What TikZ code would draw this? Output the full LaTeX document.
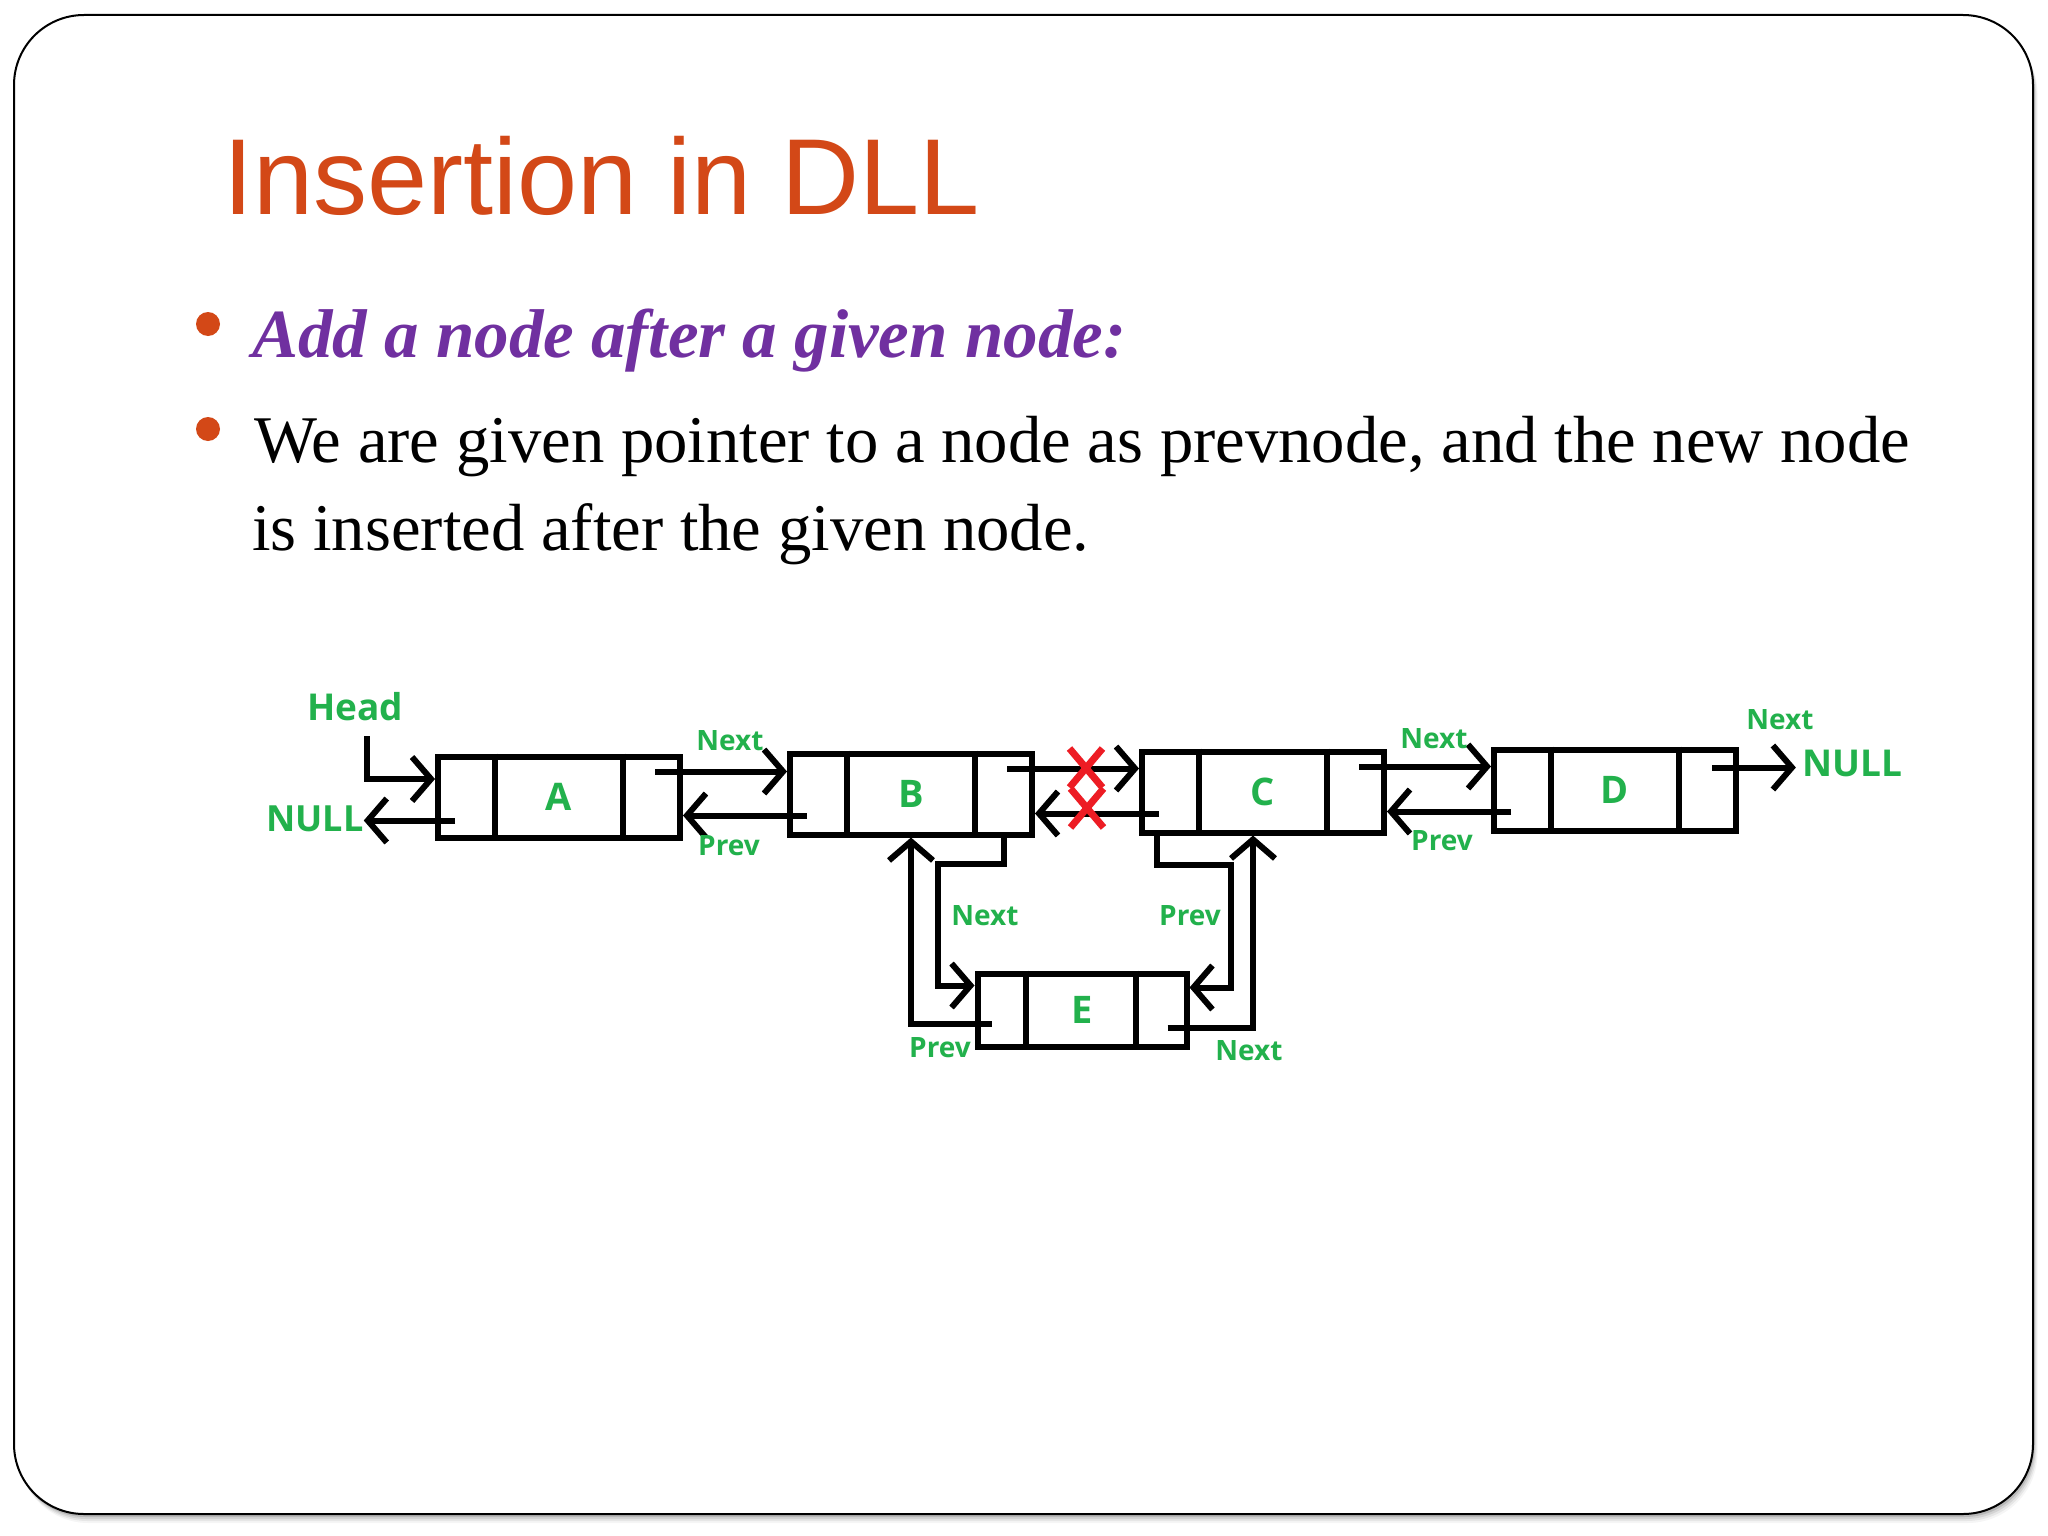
\documentclass[tikz,border=0pt]{standalone}
\usepackage{fontspec}
\setmainfont{Liberation Serif}
\newfontfamily\titlefont{Liberation Sans}
\newfontfamily\paintfont{Open Sans}
\usetikzlibrary{arrows.meta, calc, shapes.misc}
\definecolor{slideorange}{HTML}{D34817}
\definecolor{slidepurple}{HTML}{7030A0}
\definecolor{paintgreen}{HTML}{22B14C}
\definecolor{paintred}{HTML}{ED1C24}

\begin{document}
\begin{tikzpicture}[
		x=1pt, y=-1pt,
		listbox/.style={draw, line width=6pt, minimum width=242pt, minimum height=81pt, inner sep=0pt, text=paintgreen, font=\paintfont\bfseries\fontsize{38}{38}\selectfont},
		ptr/.style={line width=6pt, -{Straight Barb[length=19pt, width=44pt]}},
		lbl/.style={text=paintgreen, inner sep=0pt, font=\paintfont\bfseries\fontsize{28}{28}\selectfont},
		biglbl/.style={lbl, font=\paintfont\bfseries\fontsize{37}{37}\selectfont},
		cut/.style={cross out, draw=paintred, line width=7pt, minimum width=26pt, minimum height=32pt, inner sep=0pt}
		]
		
		% Slide frame with a soft shadow
		\useasboundingbox (0,0) rectangle (2048,1536);
		\fill[white] (0,0) rectangle (2048,1536);
		\foreach \s/\o in {9/0.04, 7/0.06, 5/0.08, 3/0.12} {
			\fill[black, opacity=\o, rounded corners=70pt] ({14+\s/2},{15+\s}) rectangle ({2033+\s/2},{1514+\s});
		}
		\draw[line width=2pt, fill=white, rounded corners=70pt] (14,15) rectangle (2033,1514);
		
		% Title and bullets
		\node[anchor=base west, inner sep=0pt, text=slideorange, font=\titlefont\fontsize{108}{108}\selectfont] (title) at (223,214) {Insertion in DLL};
		\fill[slideorange] (208,324) circle (12pt);
		\fill[slideorange] (208,429) circle (12pt);
		\node[anchor=base west, inner sep=0pt, text=slidepurple, font=\bfseries\itshape\fontsize{69}{69}\selectfont] (bul1) at (252,357) {Add a node after a given node:};
		\node[anchor=base west, inner sep=0pt, font=\fontsize{66.7}{66.7}\selectfont] (bul2a) at (254,462) {We are given pointer to a node as prevnode, and the new node};
		\node[anchor=base west, inner sep=0pt, font=\fontsize{66.7}{66.7}\selectfont] (bul2b) at (252,550) {is inserted after the given node.};
		
		% List nodes with their prev / data / next cells
		\foreach \n/\x/\y in {A/559/797, B/911/794, C/1263/792, D/1615/790} {
			\node[listbox] (\n) at (\x,\y) {\n};
			\draw[line width=6pt] ([xshift=60pt]\n.north west) -- ([xshift=60pt]\n.south west)
			([xshift=-60pt]\n.north east) -- ([xshift=-60pt]\n.south east);
		}
		
		% New node E
		\node[listbox, minimum width=209pt, minimum height=73pt] (E) at (1082,1010) {E};
		\draw[line width=6pt] ([xshift=51pt]E.north west) -- ([xshift=51pt]E.south west)
		([xshift=-54pt]E.north east) -- ([xshift=-54pt]E.south east);
		
		% Head and left NULL
		\node[biglbl] (head) at (355,707) {Head};
		\node[biglbl, font=\paintfont\bfseries\fontsize{36}{36}\selectfont] (nullL) at (315,819) {NULL};
		\coordinate (hd) at (367,736);
		\draw[ptr] (hd) |- ([yshift=18pt]A.west);
		\draw[ptr] ($(A.south west)+(20,-20)$) coordinate (A-pv) -- (A-pv -| nullL.east);
		
		% Next and prev pointers between neighbours
		\foreach \a/\b in {A/B, B/C, C/D} {
			\draw[ptr] ($(\a.north east)+(-28,18)$) coordinate (\a-nx) -- (\a-nx -| \b.west);
			\draw[ptr] ($(\b.south west)+(20,-22)$) coordinate (\b-pv) -- (\b-pv -| \a.east);
		}
		\node[lbl] (nextAB) at (730,741) {Next};
		\node[lbl] (prevAB) at (729,846) {Prev};
		\node[lbl] (nextCD) at (1434,739) {Next};
		\node[lbl] (prevCD) at (1442,841) {Prev};
		
		% Old links between B and C are cut
		\node[cut] (cut1) at (1086,768) {};
		\node[cut] (cut2) at (1087,808) {};
		
		% D to right NULL
		\node[biglbl] (nullR) at (1852,763) {NULL};
		\node[lbl] (nextD) at (1780,720) {Next};
		\draw[ptr, shorten >=6pt] ($(D.north east)+(-27,21)$) coordinate (D-nx) -- (D-nx -| nullR.west);
		
		% Links of E
		\draw[ptr] ($(B.south east)+(-31,-4)$) -- ++(0,30) -| ($(E.north west)+(-37,15)$) -- ($(E.north west)+(0,15)$);
		\draw[ptr] ($(E.south west)+(17,-26)$) -| (B.south);
		\draw[ptr] ($(C.south west)+(18,-4)$) -- ++(0,33) -| ($(E.north east)+(41,17)$) -- ($(E.north east)+(0,17)$);
		\draw[ptr] ($(E.south east)+(-22,-22)$) -| ([xshift=-10pt]C.south);
		\node[lbl] (nextBE) at (985,916) {Next};
		\node[lbl] (prevCE) at (1190,916) {Prev};
		\node[lbl] (prevEB) at (940,1048) {Prev};
		\node[lbl] (nextEC) at (1249,1051) {Next};
		
	\end{tikzpicture}
\end{document}
